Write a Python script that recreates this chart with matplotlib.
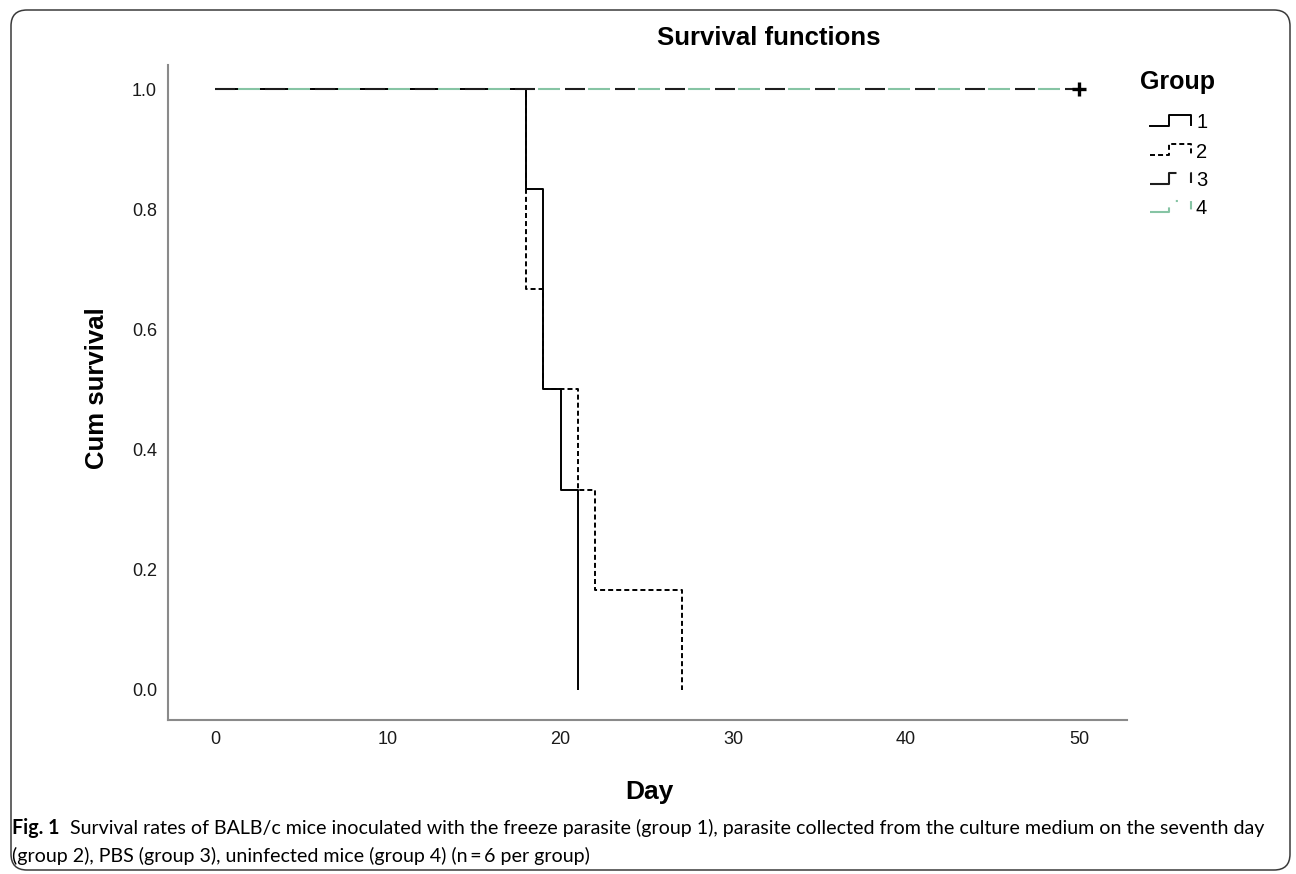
import matplotlib
matplotlib.use('Agg')
import matplotlib.pyplot as plt
from matplotlib.lines import Line2D
from matplotlib.patches import FancyBboxPatch
from matplotlib.transforms import IdentityTransform
from matplotlib.ticker import FormatStrFormatter

# ---------------- data ----------------
group_labels = ['1', '2', '3', '4']

group1_time = [0, 18, 19, 20, 21]
group1_surv = [1.0, 0.833, 0.5, 0.333, 0.0]

group2_time = [0, 18, 19, 21, 22, 27]
group2_surv = [1.0, 0.667, 0.5, 0.333, 0.167, 0.0]

group3_time = [0, 50]
group3_surv = [1.0, 1.0]

group4_time = [0, 50]
group4_surv = [1.0, 1.0]

censor_time = [50]
censor_surv = [1.0]

x_ticks = [0, 10, 20, 30, 40, 50]
y_ticks = [0.0, 0.2, 0.4, 0.6, 0.8, 1.0]

title_text = 'Survival functions'
xlabel_text = 'Day'
ylabel_text = 'Cum survival'
legend_title = 'Group'
cap_bold = 'Fig. 1'
cap_line1 = ('Survival rates of BALB/c mice inoculated with the freeze parasite (group 1), '
             'parasite collected from the culture medium on the seventh day')
cap_line2 = '(group 2), PBS (group 3), uninfected mice (group 4) (n\u2009=\u20096 per group)'

# ---------------- style ----------------
plt.rcParams['font.family'] = ['Liberation Sans', 'DejaVu Sans']
plt.rcParams['lines.scale_dashes'] = False

W, H = 1296, 874
fig = plt.figure(figsize=(W / 100, H / 100), dpi=100)


def fx(x):
    return x / W


def fy(y):
    return 1 - y / H


GREEN = '#86c4a4'
DARK = '#1e1e1e'
styles = [
    dict(color='black', lw=1.4, ls='-'),
    dict(color='black', lw=1.4, ls=(0, (3.6, 2.2))),
    dict(color=DARK, lw=1.5, ls=(0, (14.4, 21.6))),
    dict(color=GREEN, lw=1.5, ls=(19.4, (15.8, 20.2))),
]
legend_ls = [
    '-',
    (0, (3.6, 2.2)),
    (0, (27, 10, 8, 10)),
    (0, (17, 9.5, 1.5, 9.5, 6, 20)),
]

ax = fig.add_axes([fx(168), fy(720), (1127 - 168) / W, (720 - 65) / H])
ax.set_xlim(-2.72, 52.78)
ax.set_ylim(-0.050, 1.040)

series = [(group1_time, group1_surv), (group2_time, group2_surv),
          (group3_time, group3_surv), (group4_time, group4_surv)]
zorders = [2, 3, 4, 5]
for (t, s), st, z in zip(series, styles, zorders):
    ax.step(t, s, where='post', color=st['color'], lw=st['lw'],
            linestyle=st['ls'], zorder=z, solid_capstyle='butt')

ax.plot(censor_time, censor_surv, linestyle='none', marker='+', markersize=10,
        mew=2.4, color='black', zorder=6)

for side in ['top', 'right']:
    ax.spines[side].set_visible(False)
for side in ['left', 'bottom']:
    ax.spines[side].set_color('#8a8a8a')
    ax.spines[side].set_linewidth(1.5)

ax.set_xticks(x_ticks)
ax.set_yticks(y_ticks)
ax.yaxis.set_major_formatter(FormatStrFormatter('%.1f'))
ax.tick_params(axis='both', length=0, labelsize=13, colors='#1a1a1a')
ax.tick_params(axis='x', pad=8)
ax.tick_params(axis='y', pad=8)

# titles / labels
fig.text(fx(769), fy(38), title_text, ha='center', va='center', fontsize=18.5,
         fontweight='bold')
fig.text(fx(649), fy(792), xlabel_text, ha='center', va='center', fontsize=19,
         fontweight='bold')
fig.text(fx(97), fy(388), ylabel_text, ha='center', va='center', fontsize=18.5,
         fontweight='bold', rotation=90)

# legend
fig.text(fx(1140), fy(82), legend_title, ha='left', va='center', fontsize=18,
         fontweight='bold')
rows = [123, 152, 181, 209]
for lab, yc, st, lls in zip(group_labels, rows, styles, legend_ls):
    xs = [1150, 1169, 1169, 1191, 1191]
    ys = [yc + 3, yc + 3, yc - 8, yc - 8, yc + 2]
    fig.add_artist(Line2D([fx(v) for v in xs], [fy(v) for v in ys],
                          transform=fig.transFigure, color=st['color'],
                          lw=st['lw'], linestyle=lls))
    fig.text(fx(1196), fy(yc), lab, ha='left', va='center', fontsize=14.5)

# border
border = FancyBboxPatch((11, H - 870), 1290 - 11, 870 - 10,
                        boxstyle='round,pad=0,rounding_size=16',
                        transform=IdentityTransform(), fill=False,
                        edgecolor='#3a3a3a', lw=1.1)
fig.add_artist(border)

# caption
capfam = ['Lato', 'DejaVu Sans']
renderer = fig.canvas.get_renderer()
cap_fs = 12.0
tb = fig.text(fx(12), fy(834), cap_bold, fontweight='bold', fontsize=cap_fs,
              family=capfam, va='baseline', ha='left')
t1 = fig.text(fx(60), fy(834), cap_line1, fontsize=cap_fs, family=capfam,
              va='baseline', ha='left')
t2 = fig.text(fx(12), fy(862), cap_line2, fontsize=cap_fs, family=capfam,
              va='baseline', ha='left')
for _ in range(4):
    wb = tb.get_window_extent(renderer).width
    w1 = t1.get_window_extent(renderer).width
    gap = 0.75 * cap_fs
    total = wb + gap + w1
    cap_fs *= 1252.0 / total
    for t in (tb, t1, t2):
        t.set_fontsize(cap_fs)
wb = tb.get_window_extent(renderer).width
t1.set_x(fx(12 + wb + 0.75 * cap_fs))

fig.savefig('out.png', dpi=100)
